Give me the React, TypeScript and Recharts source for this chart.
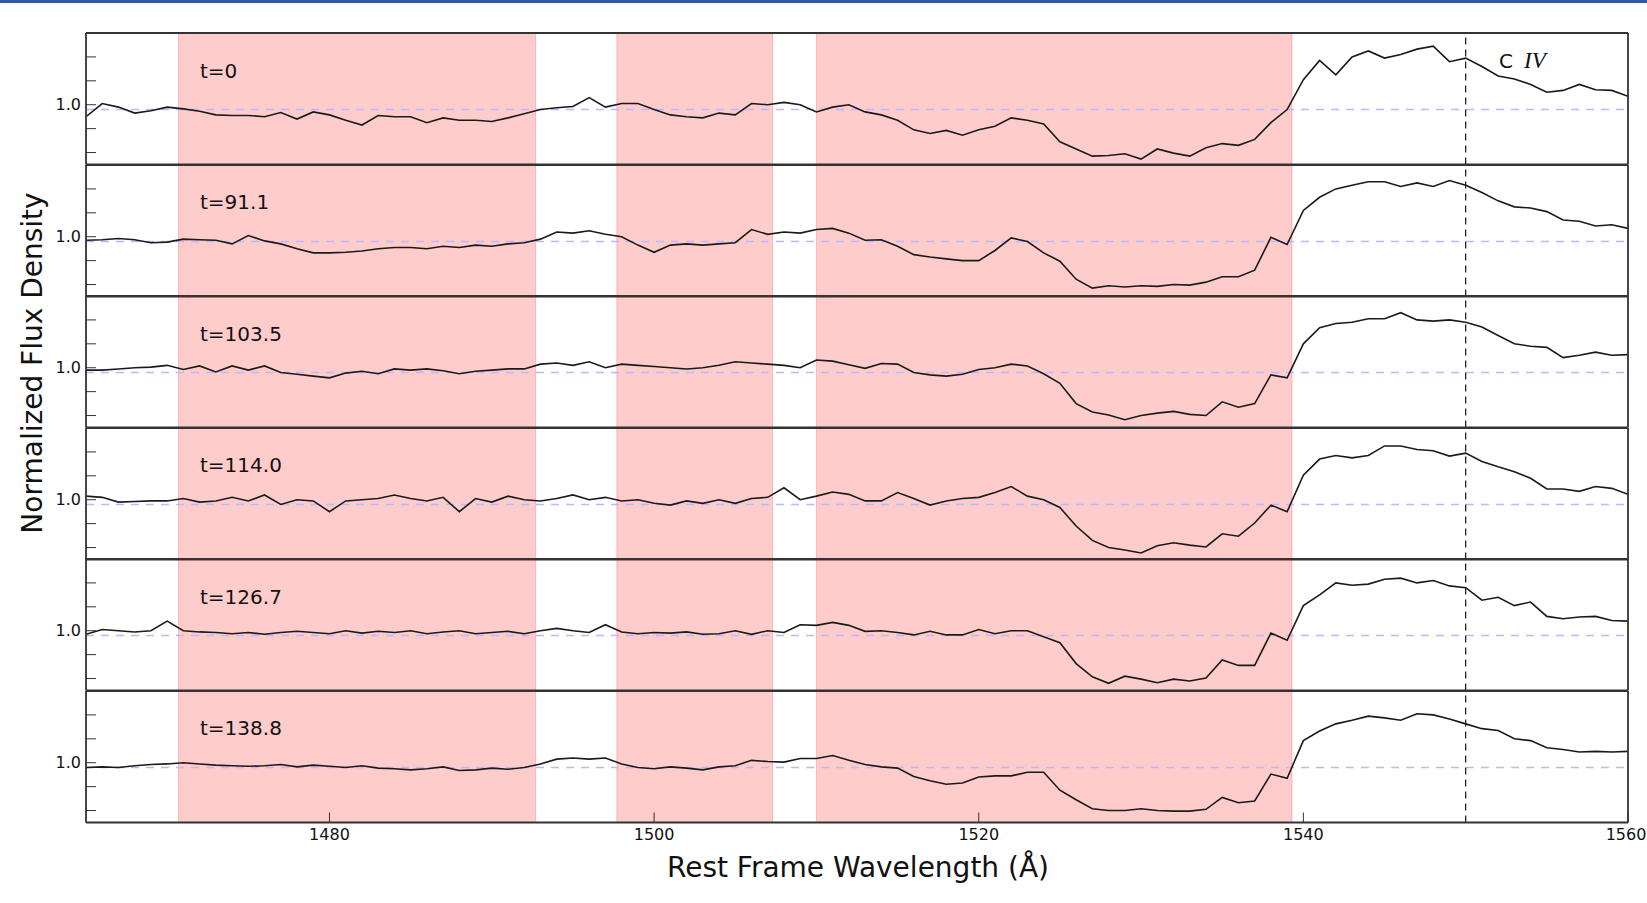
import React from "react";
import { Line, LineChart, ReferenceArea, ReferenceLine, XAxis, YAxis } from "recharts";

// wavelength grid (Å), shared by all epochs
const wavelength = [
  1465, 1466, 1467, 1468, 1469, 1470, 1471, 1472, 1473, 1474,
  1475, 1476, 1477, 1478, 1479, 1480, 1481, 1482, 1483, 1484,
  1485, 1486, 1487, 1488, 1489, 1490, 1491, 1492, 1493, 1494,
  1495, 1496, 1497, 1498, 1499, 1500, 1501, 1502, 1503, 1504,
  1505, 1506, 1507, 1508, 1509, 1510, 1511, 1512, 1513, 1514,
  1515, 1516, 1517, 1518, 1519, 1520, 1521, 1522, 1523, 1524,
  1525, 1526, 1527, 1528, 1529, 1530, 1531, 1532, 1533, 1534,
  1535, 1536, 1537, 1538, 1539, 1540, 1541, 1542, 1543, 1544,
  1545, 1546, 1547, 1548, 1549, 1550, 1551, 1552, 1553, 1554,
  1555, 1556, 1557, 1558, 1559, 1560,
];

const epochLabels = ["t=0", "t=91.1", "t=103.5", "t=114.0", "t=126.7", "t=138.8"];

const fluxT0 = [
  0.9, 1.01, 0.98, 0.93, 0.95, 0.98, 0.965, 0.945, 0.915, 0.91,
  0.91, 0.9, 0.935, 0.88, 0.94, 0.915, 0.87, 0.83, 0.91, 0.9,
  0.9, 0.85, 0.89, 0.87, 0.87, 0.86, 0.89, 0.925, 0.96, 0.975,
  0.985, 1.06, 0.98, 1.01, 1.01, 0.96, 0.915, 0.9, 0.89, 0.93,
  0.915, 1.01, 1.0, 1.02, 1.0, 0.94, 0.98, 1.0, 0.94, 0.915,
  0.87, 0.79, 0.76, 0.785, 0.745, 0.79, 0.82, 0.89, 0.87, 0.84,
  0.69, 0.63, 0.57, 0.575, 0.59, 0.545, 0.63, 0.595, 0.57, 0.64,
  0.675, 0.66, 0.71, 0.85, 0.96, 1.21, 1.37, 1.25, 1.4, 1.45,
  1.39, 1.42, 1.465, 1.49, 1.36, 1.39, 1.32, 1.24, 1.215, 1.17,
  1.105, 1.12, 1.17, 1.125, 1.12, 1.07,
];

const fluxT91 = [
  0.97, 0.975, 0.985, 0.975, 0.95, 0.955, 0.98, 0.975, 0.97, 0.94,
  1.01, 0.965, 0.94, 0.9, 0.865, 0.865, 0.87, 0.88, 0.9, 0.91,
  0.91, 0.9, 0.92, 0.91, 0.93, 0.92, 0.94, 0.95, 0.98, 1.04,
  1.03, 1.05, 1.02, 1.0, 0.93, 0.87, 0.93, 0.94, 0.93, 0.94,
  0.95, 1.06, 1.02, 1.04, 1.03, 1.06, 1.07, 1.03, 0.97, 0.975,
  0.92, 0.85, 0.83, 0.815, 0.8, 0.8, 0.885, 0.99, 0.96, 0.865,
  0.795, 0.645, 0.57, 0.59, 0.58, 0.59, 0.585, 0.6, 0.595, 0.62,
  0.665, 0.665, 0.72, 0.995, 0.935, 1.22, 1.33, 1.4, 1.43, 1.46,
  1.46, 1.42, 1.45, 1.42, 1.47, 1.43, 1.37, 1.3, 1.25, 1.24,
  1.21, 1.14, 1.13, 1.09, 1.1, 1.07,
];

const fluxT103 = [
  0.98, 0.98, 0.99, 1.0, 1.005, 1.02, 0.985, 1.015, 0.965, 1.015,
  0.98, 1.015, 0.96, 0.945, 0.93, 0.915, 0.955, 0.97, 0.95, 0.99,
  0.98, 0.99, 0.975, 0.95, 0.97, 0.98, 0.99, 0.99, 1.03, 1.04,
  1.02, 1.05, 1.0, 1.03, 1.02, 1.01, 1.0, 0.99, 1.0, 1.02,
  1.05, 1.04, 1.03, 1.02, 1.0, 1.065, 1.055, 1.025, 0.995, 1.035,
  1.03, 0.96, 0.94, 0.93, 0.945, 0.985, 1.0, 1.03, 1.015, 0.95,
  0.87, 0.7, 0.63, 0.605, 0.565, 0.6, 0.62, 0.635, 0.61, 0.6,
  0.715, 0.67, 0.7, 0.94, 0.915, 1.2, 1.335, 1.37, 1.38, 1.41,
  1.41, 1.46, 1.4, 1.39, 1.4, 1.38, 1.34, 1.27, 1.2, 1.18,
  1.17, 1.085, 1.105, 1.13, 1.105, 1.11,
];

const fluxT114 = [
  1.03, 1.02, 0.98, 0.985, 0.99, 0.99, 1.01, 0.98, 0.99, 1.02,
  0.99, 1.04, 0.96, 1.0, 0.99, 0.9, 0.99, 1.0, 1.01, 1.04,
  1.01, 0.99, 1.02, 0.9, 1.01, 0.98, 1.03, 1.0, 0.99, 1.01,
  1.04, 1.0, 1.02, 0.99, 1.0, 0.97, 0.955, 0.99, 0.97, 1.0,
  0.97, 1.01, 1.02, 1.1, 1.0, 1.03, 1.065, 1.045, 0.99, 0.99,
  1.06, 1.01, 0.955, 0.99, 1.01, 1.02, 1.06, 1.11, 1.03, 1.0,
  0.935, 0.78, 0.66, 0.6, 0.58, 0.555, 0.615, 0.64, 0.62, 0.605,
  0.715, 0.695, 0.805, 0.955, 0.9, 1.205, 1.34, 1.37, 1.35, 1.37,
  1.45, 1.45, 1.42, 1.41, 1.365, 1.39, 1.32, 1.275, 1.235, 1.18,
  1.09, 1.09, 1.07, 1.11, 1.095, 1.045,
];

const fluxT126 = [
  0.97, 1.01, 1.0, 0.99, 1.0, 1.08, 1.0, 0.99, 0.985, 0.975,
  0.985, 0.97, 0.985, 0.995, 0.985, 0.975, 1.0, 0.98, 0.995, 0.985,
  1.0, 0.975, 0.99, 1.0, 0.975, 0.985, 0.995, 0.975, 1.0, 1.02,
  1.0, 0.985, 1.05, 0.99, 0.975, 0.985, 0.98, 0.99, 0.97, 0.975,
  1.0, 0.97, 1.0, 0.985, 1.05, 1.045, 1.07, 1.045, 0.995, 1.0,
  0.985, 0.965, 0.995, 0.965, 0.965, 1.01, 0.975, 1.0, 1.0, 0.95,
  0.9, 0.725, 0.615, 0.56, 0.62, 0.595, 0.565, 0.595, 0.58, 0.605,
  0.755, 0.71, 0.71, 0.98, 0.92, 1.21, 1.3, 1.4, 1.38, 1.39,
  1.43, 1.44, 1.4, 1.42, 1.375, 1.36, 1.255, 1.28, 1.21, 1.24,
  1.12, 1.1, 1.115, 1.12, 1.085, 1.08,
];

const fluxT138 = [
  0.96, 0.965, 0.96, 0.975, 0.985, 0.99, 1.0, 0.99, 0.98, 0.975,
  0.97, 0.975, 0.985, 0.965, 0.98, 0.97, 0.96, 0.975, 0.955, 0.95,
  0.94, 0.95, 0.965, 0.935, 0.94, 0.955, 0.945, 0.96, 0.99, 1.03,
  1.04, 1.03, 1.04, 0.99, 0.96, 0.95, 0.965, 0.955, 0.94, 0.965,
  0.975, 1.02, 1.01, 1.005, 1.035, 1.035, 1.06, 1.02, 0.985, 0.965,
  0.955, 0.885, 0.85, 0.82, 0.83, 0.88, 0.89, 0.89, 0.92, 0.92,
  0.77, 0.69, 0.615, 0.6, 0.6, 0.615, 0.6, 0.595, 0.595, 0.61,
  0.71, 0.665, 0.68, 0.905, 0.87, 1.185, 1.265, 1.325, 1.355, 1.39,
  1.375, 1.355, 1.41, 1.4, 1.365, 1.325, 1.285, 1.27, 1.2, 1.185,
  1.125, 1.11, 1.09, 1.095, 1.09, 1.095,
];

const epochs = [fluxT0, fluxT91, fluxT103, fluxT114, fluxT126, fluxT138];

// masked wavelength windows (shaded red)
const shadedRanges = [
  [1470.7, 1492.7],
  [1497.7, 1507.3],
  [1510.0, 1539.3],
];

const xDomain = [1465, 1560];
const yDomain = [0.5, 1.6];
const majorTicks = [1480, 1500, 1520, 1540, 1560];
const minorTicks = [1470, 1475, 1485, 1490, 1495, 1505, 1510, 1515, 1525, 1530, 1535, 1545, 1550, 1555];
const yTicks = [0.6, 0.8, 1.0, 1.2, 1.4];
const continuumLevel = 0.96;
const civLine = 1550;

const W = 1647;
const H = 903;
const PLOT_LEFT = 86;
const PLOT_RIGHT = 1628;
const PLOT_TOP = 33;
const PANEL_H = 131.5;
const PAD = 12;
const FONT = "DejaVu Sans, sans-serif";
const AXIS_COLOR = "#333";

// keeps the last label (1560) inside the page
function WaveTick({ x, y, payload }: any) {
  return (
    <text x={Math.min(x, W - 21)} y={y} dy="0.71em" textAnchor="middle" fontSize={16} fill="#111" fontFamily={FONT}>
      {payload.value}
    </text>
  );
}

function SpectrumPanel({ flux, index, last }: { flux: number[]; index: number; last: boolean }) {
  const data = wavelength.map((w, i) => ({ w, f: flux[i] }));
  const extra = last ? 40 : 0;
  const axisLine = { stroke: AXIS_COLOR, strokeWidth: 1.8 };
  const tickLine = { stroke: AXIS_COLOR, strokeWidth: 1 };

  // every axis takes 1px of room, the margins give it back
  return (
    <div style={{ position: "absolute", left: 0, top: PLOT_TOP + index * PANEL_H - PAD }}>
      <LineChart
        width={W}
        height={PANEL_H + 2 * PAD + extra}
        data={data}
        margin={{ top: PAD - 2, right: W - PLOT_RIGHT - 1, bottom: PAD + extra - 2, left: PLOT_LEFT - 1 }}
      >
        <XAxis
          xAxisId="x"
          dataKey="w"
          type="number"
          domain={xDomain}
          allowDataOverflow
          ticks={majorTicks}
          interval={0}
          height={1}
          tickSize={-10}
          tickMargin={16}
          axisLine={axisLine}
          tickLine={tickLine}
          tick={last ? <WaveTick /> : false}
        />
        <XAxis
          xAxisId="xMinor"
          dataKey="w"
          type="number"
          domain={xDomain}
          allowDataOverflow
          ticks={minorTicks}
          interval={0}
          height={1}
          tickSize={-7}
          axisLine={false}
          tickLine={tickLine}
          tick={false}
        />
        <XAxis
          xAxisId="xTop"
          orientation="top"
          dataKey="w"
          type="number"
          domain={xDomain}
          allowDataOverflow
          ticks={majorTicks}
          interval={0}
          height={1}
          tickSize={-10}
          axisLine={axisLine}
          tickLine={tickLine}
          tick={false}
        />
        <XAxis
          xAxisId="xTopMinor"
          orientation="top"
          dataKey="w"
          type="number"
          domain={xDomain}
          allowDataOverflow
          ticks={minorTicks}
          interval={0}
          height={1}
          tickSize={-7}
          axisLine={false}
          tickLine={tickLine}
          tick={false}
        />
        <YAxis
          yAxisId="y"
          type="number"
          domain={yDomain}
          allowDataOverflow
          ticks={yTicks}
          interval={0}
          width={1}
          tickSize={-10}
          tickMargin={15}
          axisLine={axisLine}
          tickLine={tickLine}
          tickFormatter={(v) => (v === 1 ? "1.0" : "")}
          tick={{ fontSize: 16, fill: "#111", fontFamily: FONT }}
        />
        <YAxis
          yAxisId="yRight"
          orientation="right"
          type="number"
          domain={yDomain}
          allowDataOverflow
          ticks={yTicks}
          interval={0}
          width={1}
          tickSize={-10}
          axisLine={axisLine}
          tickLine={tickLine}
          tick={false}
        />
        {shadedRanges.map(([a, b]) => (
          <ReferenceArea
            key={a}
            xAxisId="x"
            yAxisId="y"
            x1={a}
            x2={b}
            fill="#ff0000"
            fillOpacity={0.2}
            stroke="#ff0000"
            strokeOpacity={0.2}
          />
        ))}
        <ReferenceLine xAxisId="x" yAxisId="y" y={continuumLevel} stroke="#b9b9fb" strokeWidth={1.6} strokeDasharray="8 7" />
        <ReferenceLine xAxisId="x" yAxisId="y" x={civLine} stroke="#111" strokeWidth={1.2} strokeDasharray="7 5" />
        <Line
          xAxisId="x"
          yAxisId="y"
          type="linear"
          dataKey="f"
          stroke="#1a1a1a"
          strokeWidth={1.6}
          dot={false}
          activeDot={false}
          isAnimationActive={false}
        />
      </LineChart>
    </div>
  );
}

export default function App() {
  return (
    <div style={{ position: "absolute", left: 0, top: 0, width: W, height: H, background: "#fff", overflow: "hidden" }}>
      <div style={{ position: "absolute", left: 0, top: 0, width: W, height: 3, background: "#2f5ca8" }} />
      {epochs.map((flux, i) => (
        <SpectrumPanel key={epochLabels[i]} flux={flux} index={i} last={i === epochs.length - 1} />
      ))}
      <svg width={W} height={H} style={{ position: "absolute", left: 0, top: 0, pointerEvents: "none" }}>
        {epochLabels.map((label, i) => (
          <text key={label} x={200} y={PLOT_TOP + i * PANEL_H + 44.5} fontSize={20} fontFamily={FONT} fill="#111">
            {label}
          </text>
        ))}
        <text x={1499} y={68} fontSize={20} fontFamily={FONT} fill="#111">C</text>
        <text x={1524} y={68} fontSize={23} fontFamily="Liberation Serif, serif" fontStyle="italic" fill="#111">IV</text>
        <text x={858} y={877} fontSize={28} fontFamily={FONT} textAnchor="middle" fill="#111">
          Rest Frame Wavelength (Å)
        </text>
        <text x={42} y={363} fontSize={28} fontFamily={FONT} textAnchor="middle" fill="#111" transform="rotate(-90 42 363)">
          Normalized Flux Density
        </text>
      </svg>
    </div>
  );
}
